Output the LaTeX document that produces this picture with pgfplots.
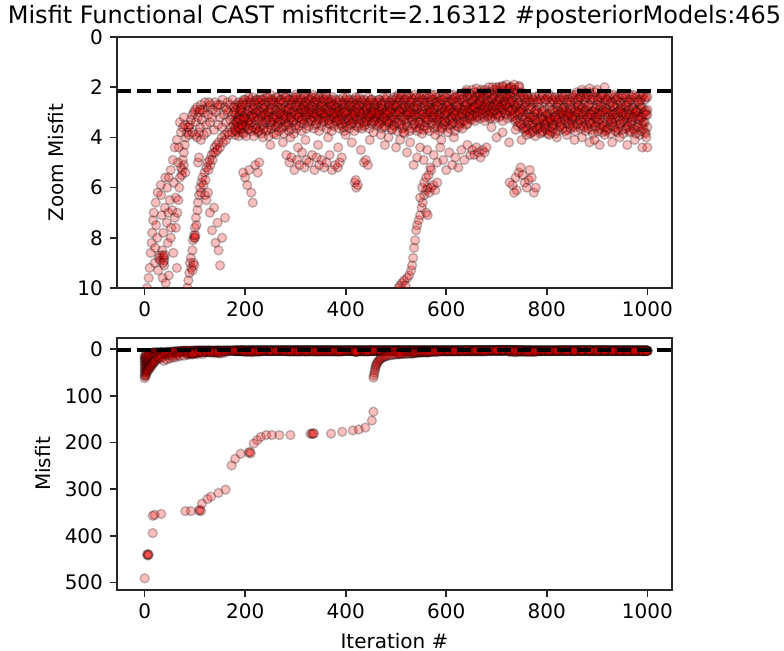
\documentclass[border=0pt]{standalone}
\usepackage{pgfplots}
\pgfplotsset{compat=1.18}
\usepackage{pgfplotstable}
\usepackage{fontspec}
\setmainfont{DejaVu Sans}

\pgfplotstableread{
x a b c d
180 2.9 3.3 3.6 3.9
185 2.8 3.2 3.5 3.8
190 2.7 3.1 3.6 3.7
195 2.6 3.0 3.4 3.8
200 2.5 3.1 3.3 3.6
205 2.6 2.9 3.4 3.7
210 2.5 2.8 3.2 3.5
215 2.4 2.9 3.1 3.6
220 2.6 3.0 3.3 3.7
225 2.5 2.8 3.2 3.8
230 2.4 2.7 3.0 3.6
235 2.5 2.9 3.2 3.5
240 2.6 2.8 3.1 3.4
245 2.4 3.0 3.3 3.7
250 2.3 2.7 3.0 3.5
255 2.5 2.6 3.2 3.4
260 2.6 2.9 3.1 3.6
265 2.4 2.8 3.3 3.5
270 2.5 2.7 3.0 3.3
275 2.3 2.9 3.2 3.6
280 2.4 2.8 3.1 3.4
285 2.6 3.0 2.9 3.5
290 2.5 2.7 3.2 3.3
295 2.4 2.6 3.0 3.4
300 2.3 2.8 3.1 3.5
305 2.5 2.7 2.9 3.2
310 2.4 2.9 3.0 3.4
315 2.6 2.8 3.2 3.3
320 2.3 2.6 2.9 3.1
325 2.4 2.7 3.0 3.4
330 2.5 2.9 3.1 3.3
335 2.3 2.8 2.9 3.2
340 2.4 2.6 3.0 3.5
345 2.6 2.7 3.2 3.3
350 2.5 2.9 3.0 3.1
355 2.4 2.8 3.1 3.4
360 2.3 2.6 2.9 3.2
365 2.5 2.8 3.0 3.3
370 2.6 2.7 3.2 3.5
375 2.4 2.9 3.1 3.2
380 2.5 2.8 3.0 3.4
385 2.7 3.0 3.2 3.3
390 2.6 2.9 3.1 3.5
395 2.4 2.8 3.3 3.6
400 2.5 2.7 3.0 3.4
405 2.6 3.0 3.2 3.3
410 2.7 2.9 3.1 3.5
415 2.5 2.8 3.3 3.4
420 2.4 2.7 3.0 3.2
425 2.6 2.9 3.2 3.6
430 2.5 3.0 3.1 3.3
435 2.7 2.8 3.0 3.4
440 2.6 2.9 3.2 3.5
445 2.4 2.7 3.1 3.3
450 2.5 2.8 3.0 3.2
455 2.6 3.0 3.2 3.4
460 2.7 2.9 3.1 3.3
465 2.5 2.8 3.0 3.5
470 2.6 2.7 3.2 3.4
475 2.4 2.9 3.1 3.2
480 2.5 3.0 3.3 3.6
485 2.7 2.8 3.0 3.4
490 2.6 2.9 3.2 3.3
495 2.4 2.7 3.1 3.5
500 2.5 2.8 3.0 3.4
505 2.3 2.6 2.9 3.3
510 2.4 2.7 3.1 3.5
515 2.6 2.9 3.2 3.6
520 2.5 2.8 3.0 3.4
525 2.3 2.7 3.1 3.3
530 2.4 2.6 2.9 3.2
535 2.5 2.8 3.2 3.5
540 2.4 2.9 3.0 3.6
545 2.6 2.7 3.1 3.4
550 2.3 2.8 3.3 3.5
555 2.5 2.6 3.0 3.7
560 2.4 2.9 3.2 3.4
565 2.6 2.8 3.1 3.3
570 2.3 2.7 2.9 3.5
575 2.5 2.9 3.0 3.2
580 2.4 2.6 3.2 3.4
585 2.6 2.8 3.1 3.3
590 2.5 2.7 3.0 3.6
595 2.3 2.9 3.2 3.5
600 2.4 2.8 3.1 3.4
605 2.6 2.7 2.9 3.3
610 2.5 2.9 3.2 3.5
615 2.3 2.6 3.0 3.4
620 2.4 2.8 3.1 3.2
625 2.5 2.7 3.3 3.6
630 2.3 2.9 3.0 3.4
635 2.4 2.6 2.9 3.3
640 2.2 2.7 3.1 3.5
645 2.5 2.8 3.0 3.2
650 2.3 2.6 2.9 3.3
655 2.2 2.5 2.8 3.1
660 2.4 2.7 3.0 3.2
665 2.3 2.6 2.9 3.0
670 2.1 2.5 2.8 3.1
675 2.3 2.7 2.9 3.2
680 2.2 2.4 2.7 3.0
685 2.0 2.6 2.8 3.1
690 2.3 2.5 3.0 3.2
695 2.1 2.4 2.7 2.9
700 2.2 2.6 2.8 3.1
705 2.0 2.5 2.9 3.2
710 2.3 2.7 2.8 3.0
715 2.1 2.4 2.6 2.9
720 1.9 2.3 2.7 3.1
725 2.2 2.5 2.8 3.0
730 2.0 2.6 2.9 3.2
735 2.1 2.4 2.7 3.1
740 2.3 2.5 2.8 3.3
745 1.95 2.6 3.0 3.4
750 2.2 2.7 2.9 3.5
755 2.4 2.8 3.1 3.6
760 2.3 2.6 3.2 3.7
765 2.5 2.9 3.3 3.5
770 2.4 2.8 3.4 3.8
775 2.6 3.0 3.2 3.6
780 2.5 2.9 3.3 3.7
785 2.3 2.8 3.5 3.6
790 2.4 3.0 3.2 3.8
795 2.6 2.9 3.4 3.5
800 2.5 3.1 3.3 3.7
805 2.3 2.8 3.2 3.6
810 2.4 2.9 3.4 3.8
815 2.6 3.0 3.3 3.5
820 2.5 2.8 3.1 3.4
825 2.4 2.7 3.2 3.6
830 2.3 2.9 3.0 3.5
835 2.5 2.8 3.2 3.3
840 2.6 3.0 3.1 3.7
845 2.4 2.7 3.3 3.5
850 2.3 2.9 3.2 3.4
855 2.5 2.8 3.0 3.6
860 2.2 2.6 3.1 3.5
865 2.4 2.7 2.9 3.3
870 2.3 2.8 3.2 3.4
875 2.5 2.6 3.0 3.6
880 2.4 2.9 3.1 3.5
885 2.2 2.7 3.3 3.4
890 2.3 2.8 3.0 3.7
895 2.5 3.0 3.2 3.6
900 2.4 2.7 3.1 3.4
905 2.6 2.9 3.3 3.5
910 2.3 2.8 3.0 3.8
915 2.4 2.6 3.2 3.6
920 2.5 2.9 3.4 3.7
925 2.3 2.7 3.1 3.5
930 2.6 3.0 3.3 3.4
935 2.4 2.8 3.2 3.6
940 2.5 2.7 3.0 3.8
945 2.3 2.9 3.3 3.5
950 2.4 2.8 3.1 3.7
955 2.6 3.0 3.2 3.4
960 2.5 2.7 3.4 3.6
965 2.3 2.9 3.1 3.8
970 2.4 2.8 3.3 3.5
975 2.6 3.1 3.2 3.7
980 2.5 2.9 3.0 3.6
985 2.3 2.7 3.3 3.9
990 2.4 2.8 3.2 3.5
995 2.5 3.0 3.4 3.8
1000 2.4 2.9 3.1 3.6
}\band

\pgfplotstableread{
x a b c d
182 2.7 3.05 3.4 3.75
187 2.6 3.15 3.3 3.95
192 2.8 2.95 3.5 3.65
197 2.5 3.25 3.3 3.85
202 2.7 3.05 3.5 3.95
207 2.4 2.95 3.3 3.65
212 2.6 3.15 3.4 3.75
217 2.7 2.85 3.2 3.95
222 2.5 3.05 3.5 3.65
227 2.6 2.95 3.3 3.75
232 2.5 3.15 3.4 3.85
237 2.7 2.85 3.1 3.65
242 2.4 3.05 3.3 3.75
247 2.6 2.95 3.2 3.95
252 2.5 2.85 3.4 3.65
257 2.7 3.15 3.3 3.85
262 2.4 2.95 3.2 3.55
267 2.6 3.05 3.4 3.75
272 2.5 2.85 3.1 3.65
277 2.6 3.15 3.3 3.85
282 2.4 2.95 3.2 3.55
287 2.5 2.85 3.4 3.75
292 2.7 3.05 3.2 3.65
297 2.5 2.95 3.3 3.85
302 2.4 2.75 3.1 3.65
307 2.6 3.05 3.2 3.55
312 2.5 2.85 3.3 3.75
317 2.4 2.75 3.0 3.45
322 2.6 2.95 3.2 3.65
327 2.5 2.85 3.1 3.55
332 2.4 2.75 3.0 3.35
337 2.6 3.05 3.2 3.65
342 2.5 2.85 3.1 3.45
347 2.4 2.95 3.3 3.75
352 2.6 2.75 3.0 3.55
357 2.5 3.05 3.2 3.35
362 2.4 2.85 3.1 3.65
367 2.6 2.95 3.3 3.45
372 2.5 2.75 3.0 3.75
377 2.7 3.05 3.2 3.55
382 2.6 2.85 3.1 3.35
387 2.5 2.95 3.3 3.65
392 2.7 3.05 3.2 3.45
397 2.6 2.85 3.0 3.75
402 2.4 2.95 3.1 3.55
407 2.5 2.75 3.3 3.65
412 2.6 3.05 3.2 3.45
417 2.7 2.95 3.1 3.75
422 2.5 2.85 3.3 3.55
427 2.4 2.75 3.0 3.45
432 2.6 3.05 3.2 3.65
437 2.5 2.95 3.4 3.55
442 2.7 2.85 3.1 3.35
447 2.6 3.05 3.2 3.65
452 2.5 2.95 3.1 3.45
457 2.7 2.85 3.0 3.35
462 2.6 3.05 3.2 3.55
467 2.5 2.95 3.1 3.45
472 2.7 2.85 3.3 3.65
477 2.6 3.05 3.2 3.55
482 2.4 2.95 3.1 3.35
487 2.6 2.75 3.0 3.45
492 2.5 2.85 3.2 3.65
497 2.7 3.05 3.3 3.55
502 2.4 2.75 3.1 3.75
507 2.5 2.95 3.0 3.45
512 2.3 2.85 3.2 3.65
517 2.5 2.75 3.3 3.85
522 2.4 2.95 3.1 3.55
527 2.6 2.85 3.0 3.75
532 2.5 3.05 3.3 3.65
537 2.3 2.75 3.1 3.45
542 2.6 2.85 3.2 3.75
547 2.4 3.05 3.4 3.65
552 2.5 2.95 3.1 3.85
557 2.3 2.75 3.2 3.55
562 2.6 3.05 3.3 3.65
567 2.4 2.85 3.0 3.75
572 2.5 2.95 3.2 3.45
577 2.3 2.85 3.1 3.65
582 2.6 2.75 3.3 3.55
587 2.4 3.05 3.2 3.75
592 2.5 2.85 3.4 3.65
597 2.4 2.95 3.1 3.35
602 2.6 2.75 3.0 3.55
607 2.3 2.85 3.3 3.65
612 2.5 3.05 3.2 3.45
617 2.4 2.95 3.1 3.75
622 2.6 2.75 3.0 3.55
627 2.3 2.85 3.2 3.45
632 2.5 3.05 3.1 3.65
637 2.2 2.75 2.9 3.35
642 2.4 2.65 3.0 3.45
647 2.3 2.85 3.1 3.25
652 2.1 2.55 2.9 3.15
657 2.4 2.75 2.8 3.35
662 2.2 2.65 3.0 3.15
667 2.3 2.55 2.7 3.25
672 2.2 2.45 2.9 3.05
677 2.1 2.65 2.8 3.35
682 2.3 2.55 2.9 3.15
687 2.2 2.75 3.0 3.25
692 2.0 2.45 2.8 3.05
697 2.3 2.65 2.9 3.25
702 2.1 2.55 2.7 3.05
707 2.2 2.45 2.8 3.15
712 2.0 2.65 2.9 3.35
717 2.3 2.55 2.7 3.05
722 2.1 2.45 2.8 3.25
727 2.0 2.35 2.6 2.95
732 2.2 2.55 2.9 3.15
737 2.1 2.75 3.0 3.35
742 2.2 2.65 3.1 3.55
747 2.4 2.85 3.0 3.45
752 2.3 2.95 3.2 3.65
757 2.5 2.75 3.3 3.75
762 2.4 3.05 3.4 3.65
767 2.6 2.85 3.2 3.85
772 2.5 3.15 3.5 3.75
777 2.4 2.95 3.3 3.95
782 2.6 3.05 3.4 3.65
787 2.5 3.25 3.6 3.85
792 2.3 2.95 3.3 3.75
797 2.5 3.15 3.5 3.65
802 2.4 3.05 3.4 3.85
807 2.6 3.25 3.3 3.75
812 2.5 2.95 3.5 3.65
817 2.4 3.15 3.2 3.85
822 2.6 2.95 3.3 3.75
827 2.5 3.05 3.4 3.55
832 2.4 2.85 3.1 3.65
837 2.3 2.95 3.3 3.75
842 2.5 3.05 3.2 3.45
847 2.6 2.85 3.1 3.65
852 2.4 3.15 3.3 3.55
857 2.3 2.95 3.2 3.75
862 2.5 2.75 3.0 3.45
867 2.4 3.05 3.3 3.65
872 2.2 2.85 3.1 3.55
877 2.4 2.95 3.3 3.75
882 2.3 2.75 3.2 3.65
887 2.5 3.05 3.1 3.45
892 2.4 2.95 3.4 3.85
897 2.2 2.85 3.2 3.55
902 2.5 3.05 3.3 3.75
907 2.4 2.75 3.1 3.65
912 2.3 2.95 3.4 3.55
917 2.5 2.85 3.0 3.75
922 2.4 3.05 3.2 3.65
927 2.6 2.95 3.3 3.85
932 2.3 2.75 3.1 3.55
937 2.5 3.05 3.4 3.75
942 2.4 2.95 3.2 3.65
947 2.6 2.85 3.0 3.45
952 2.3 3.05 3.3 3.85
957 2.4 2.75 3.1 3.65
962 2.6 2.95 3.2 3.55
967 2.5 3.05 3.4 3.75
972 2.3 2.85 3.2 3.65
977 2.4 2.95 3.0 3.85
982 2.6 3.15 3.3 3.55
987 2.5 2.85 3.2 3.75
992 2.3 3.05 3.4 3.65
997 2.4 2.95 3.1 3.85
}\bandb

\pgfplotstableread{
x y
5 10.0
8 9.6
10 9.2
12 8.6
14 8.2
15 7.8
17 7.3
18 7.0
20 9.0
21 8.4
22 6.6
23 7.5
25 8.0
26 6.2
27 9.3
28 8.8
30 8.7
31 8.9
32 5.9
33 6.3
34 7.1
35 8.5
36 9.6
37 7.8
38 8.8
39 9.1
40 6.8
41 5.6
42 9.8
44 7.4
45 6.0
46 8.2
47 7.0
48 9.5
50 6.5
52 8.0
53 7.6
55 6.9
57 8.6
58 5.8
60 7.2
62 6.4
64 9.2
36 8.7
37 9.0
39 8.9
40 8.7
48 5.6
62 7.6
65 7.0
67 6.5
69 6.0
70 5.6
72 5.2
74 5.5
76 4.9
78 4.6
80 4.3
82 4.0
84 3.8
86 3.6
88 3.9
90 3.5
92 3.3
95 3.1
98 3.0
100 2.9
104 2.8
108 3.0
112 2.7
116 2.9
120 2.6
125 2.8
130 2.7
135 2.9
140 2.6
145 2.8
150 2.7
155 2.5
160 2.8
165 2.6
170 2.7
175 2.5
75 5.3
78 5.1
81 5.4
70 3.4
78 3.2
88 3.6
95 3.8
100 3.9
104 4.0
108 3.8
112 4.1
118 3.9
124 3.8
60 4.4
64 4.1
66 5.0
68 4.4
72 3.8
76 3.6
80 3.5
56 4.9
52 5.3
102 3.4
106 3.2
110 3.6
114 3.3
118 3.0
122 3.5
126 3.1
130 3.4
134 3.2
138 3.7
142 3.0
146 3.5
150 3.2
154 3.6
158 3.1
162 3.4
166 3.0
170 3.3
174 3.1
178 3.0
110 2.9
128 2.6
146 2.7
163 2.9
178 2.8
190 2.9
194 2.7
85 10.0
87 9.7
89 9.4
90 9.0
92 8.8
93 9.2
95 8.5
96 8.1
98 7.9
99 8.0
100 7.6
102 7.2
103 7.5
105 6.9
106 6.6
108 6.3
110 6.0
112 6.2
113 5.8
115 5.6
117 5.9
119 5.4
121 5.7
123 5.2
125 5.0
127 5.3
129 4.9
131 5.1
133 4.7
135 4.9
137 4.6
139 4.4
141 4.6
143 4.3
145 4.5
147 4.2
150 4.4
153 4.0
156 4.2
159 3.9
162 4.1
165 3.8
168 3.9
171 3.6
174 3.8
177 3.5
180 3.7
183 3.4
186 3.6
190 3.3
194 3.5
198 3.2
100 8.0
101 7.9
97 9.0
99 9.1
95 9.3
120 6.3
123 6.5
126 6.2
106 5.0
108 4.8
134 7.7
141 8.2
147 8.5
154 8.0
150 9.1
160 7.2
138 6.8
145 7.4
130 7.0
196 5.4
200 5.6
204 5.9
208 5.3
212 6.2
215 6.6
220 5.1
225 5.4
228 5.0
235 4.0
250 4.3
262 3.9
275 4.2
290 4.0
305 4.4
320 4.1
345 4.3
365 4.0
385 4.4
400 3.9
412 4.2
430 4.5
448 4.1
455 3.8
282 4.7
288 5.0
292 4.8
298 5.3
303 4.9
308 5.1
313 4.6
318 5.2
322 4.9
327 5.0
333 4.7
338 5.3
342 4.8
347 5.1
352 4.9
357 5.2
362 5.0
368 4.7
373 5.3
379 5.1
384 5.2
388 5.0
392 4.8
418 5.8
421 6.0
424 5.9
420 5.7
436 5.0
440 4.9
444 5.1
470 3.9
478 4.3
485 4.0
492 3.7
500 4.4
508 4.1
515 3.8
522 4.6
528 4.2
535 5.1
542 4.8
548 4.4
555 4.9
562 4.5
568 5.2
575 4.7
582 5.0
588 4.4
594 4.9
600 5.3
606 4.6
612 5.1
618 4.8
624 5.2
630 4.5
636 4.9
642 4.3
648 4.7
652 4.5
656 4.7
660 4.4
664 4.6
668 4.8
672 4.5
676 4.6
680 4.4
578 3.9
590 4.1
603 3.8
615 4.0
690 3.6
700 4.0
712 3.8
725 4.2
738 3.7
750 4.1
760 3.9
726 5.8
732 5.9
738 5.6
744 5.4
748 5.2
752 5.5
756 5.8
760 6.0
764 5.7
770 5.6
774 6.2
778 6.0
740 6.1
735 6.2
766 5.3
870 4.0
885 4.2
895 4.1
905 4.3
915 3.9
930 4.2
945 4.0
960 4.3
975 4.1
990 4.4
1000 4.4
998 4.0
805 3.9
820 4.0
840 3.9
855 4.1
700 2.0
712 1.95
725 2.05
735 1.9
745 2.0
870 2.1
885 2.05
900 2.1
915 2.0
640 2.1
660 2.05
505 10.0
508 9.9
512 9.8
516 9.7
519 9.9
522 9.6
526 9.5
530 9.3
532 9.1
534 8.8
536 8.4
538 8.1
540 7.7
542 7.5
545 7.3
548 7.1
551 6.8
553 6.6
556 6.3
560 6.1
563 6.0
566 6.2
570 6.0
574 5.9
578 6.1
582 5.8
548 6.4
552 6.0
560 7.0
563 7.1
556 5.8
560 5.6
565 5.5
570 5.3
}\feat

\pgfplotstableread{
x y
0 62
0 55
0 48
0 40
0 33
0 26
0 20
0 15
1 58
1 44
1 30
1 18
2 52
2 38
2 24
2 12
3 56
3 46
3 34
3 21
4 50
4 28
4 16
5 43
5 36
5 22
6 47
6 31
6 14
7 40
7 26
8 44
8 33
8 19
9 37
9 23
10 41
10 29
10 13
11 34
12 38
12 25
13 31
14 35
14 20
15 28
16 32
16 17
17 26
18 29
19 22
20 27
21 16
22 24
24 21
25 14
27 19
29 17
31 20
33 13
35 17
38 25
41 12
44 22
47 13
50 20
54 14
56 18
62 17
66 13
70 15
78 14
86 12.5
95 11.5
105 10.8
115 10.3
455 61
456 56
457 50
458 45
459 40
460 36
461 33
462 30
464 27
466 24
468 22
470 20
473 18
476 16.5
479 15.5
482 14.5
486 13.5
490 12.8
494 12.1
498 11.5
502 11
506 10.5
510 10.2
0 491
5 441
6 439
7 442
8 440
16 394
16 357
20 355
33 353
81 347
92 347
108 346
110 344
112 347
114 331
125 321
132 316
147 308
161 301
173 249
180 235
191 224
207 222
209 220
211 223
217 202
224 195
231 188
242 184
253 184
268 184
290 184
330 181
333 182
335 180
337 181
371 181
393 177
414 174
426 172
439 168
452 153
455 134
}\big

\begin{document}
\begin{tikzpicture}
\useasboundingbox (0pt,0pt) rectangle (392pt,-325.5pt);
\pgfplotsset{
  every axis/.append style={
    scale only axis, width=277.5pt,
    xmin=-55, xmax=1049, xtick={0,200,400,600,800,1000},
    tick align=outside, major tick length=3.5pt,
    every tick/.style={black!85, line width=0.8pt},
    axis line style={black!85, line width=0.8pt},
    tick label style={font=\fontsize{10}{12}\selectfont},
    label style={font=\fontsize{10}{12}\selectfont},
    /pgf/number format/assume math mode=true,
    /pgf/number format/1000 sep={},
    xtick pos=left, ytick pos=left,
    y dir=reverse,
    clip marker paths=true,
  },
  pt/.style={only marks, mark=*, mark size=2.25pt,
    mark options={fill=red, draw=black, fill opacity=0.25, draw opacity=0.25, line width=0.7pt}},
  crit/.style={black, line width=1.8pt, dash pattern=on 7pt off 3pt},
}
\node[anchor=base, font=\fontsize{12}{14}\selectfont] at (197.25pt,-12pt) {Misfit Functional CAST misfitcrit=2.16312 \#posteriorModels:465};

\begin{axis}[at={(58.5pt,-18.5pt)}, anchor=north west, height=125.5pt,
  ymin=0, ymax=10, ytick={0,2,4,6,8,10},
  ylabel={Zoom Misfit},
  restrict y to domain=-1:11]
\addplot[pt] table[x=x,y=a]{\band};
\addplot[pt] table[x=x,y=b]{\band};
\addplot[pt] table[x=x,y=c]{\band};
\addplot[pt] table[x=x,y=d]{\band};
\addplot[pt] table[x=x,y=a]{\bandb};
\addplot[pt] table[x=x,y=b]{\bandb};
\addplot[pt] table[x=x,y=c]{\bandb};
\addplot[pt] table[x=x,y=d]{\bandb};
\addplot[pt] table[x=x,y=y]{\feat};
\addplot[pt] table[x=x,y=y]{\big};
\addplot[crit] coordinates {(-55,2.16312) (1049,2.16312)};
\end{axis}

\begin{axis}[at={(58.5pt,-169pt)}, anchor=north west, height=126pt,
  ymin=-24, ymax=516, ytick={0,100,200,300,400,500},
  ylabel={Misfit}, xlabel={Iteration \#}]
\addplot[pt] table[x=x,y=a]{\band};
\addplot[pt] table[x=x,y=b]{\band};
\addplot[pt] table[x=x,y=c]{\band};
\addplot[pt] table[x=x,y=d]{\band};
\addplot[pt] table[x=x,y=a]{\bandb};
\addplot[pt] table[x=x,y=b]{\bandb};
\addplot[pt] table[x=x,y=c]{\bandb};
\addplot[pt] table[x=x,y=d]{\bandb};
\addplot[pt] table[x=x,y=y]{\feat};
\addplot[pt] table[x=x,y=y]{\big};
\addplot[crit] coordinates {(-55,2.16312) (1049,2.16312)};
\end{axis}
\end{tikzpicture}
\end{document}
